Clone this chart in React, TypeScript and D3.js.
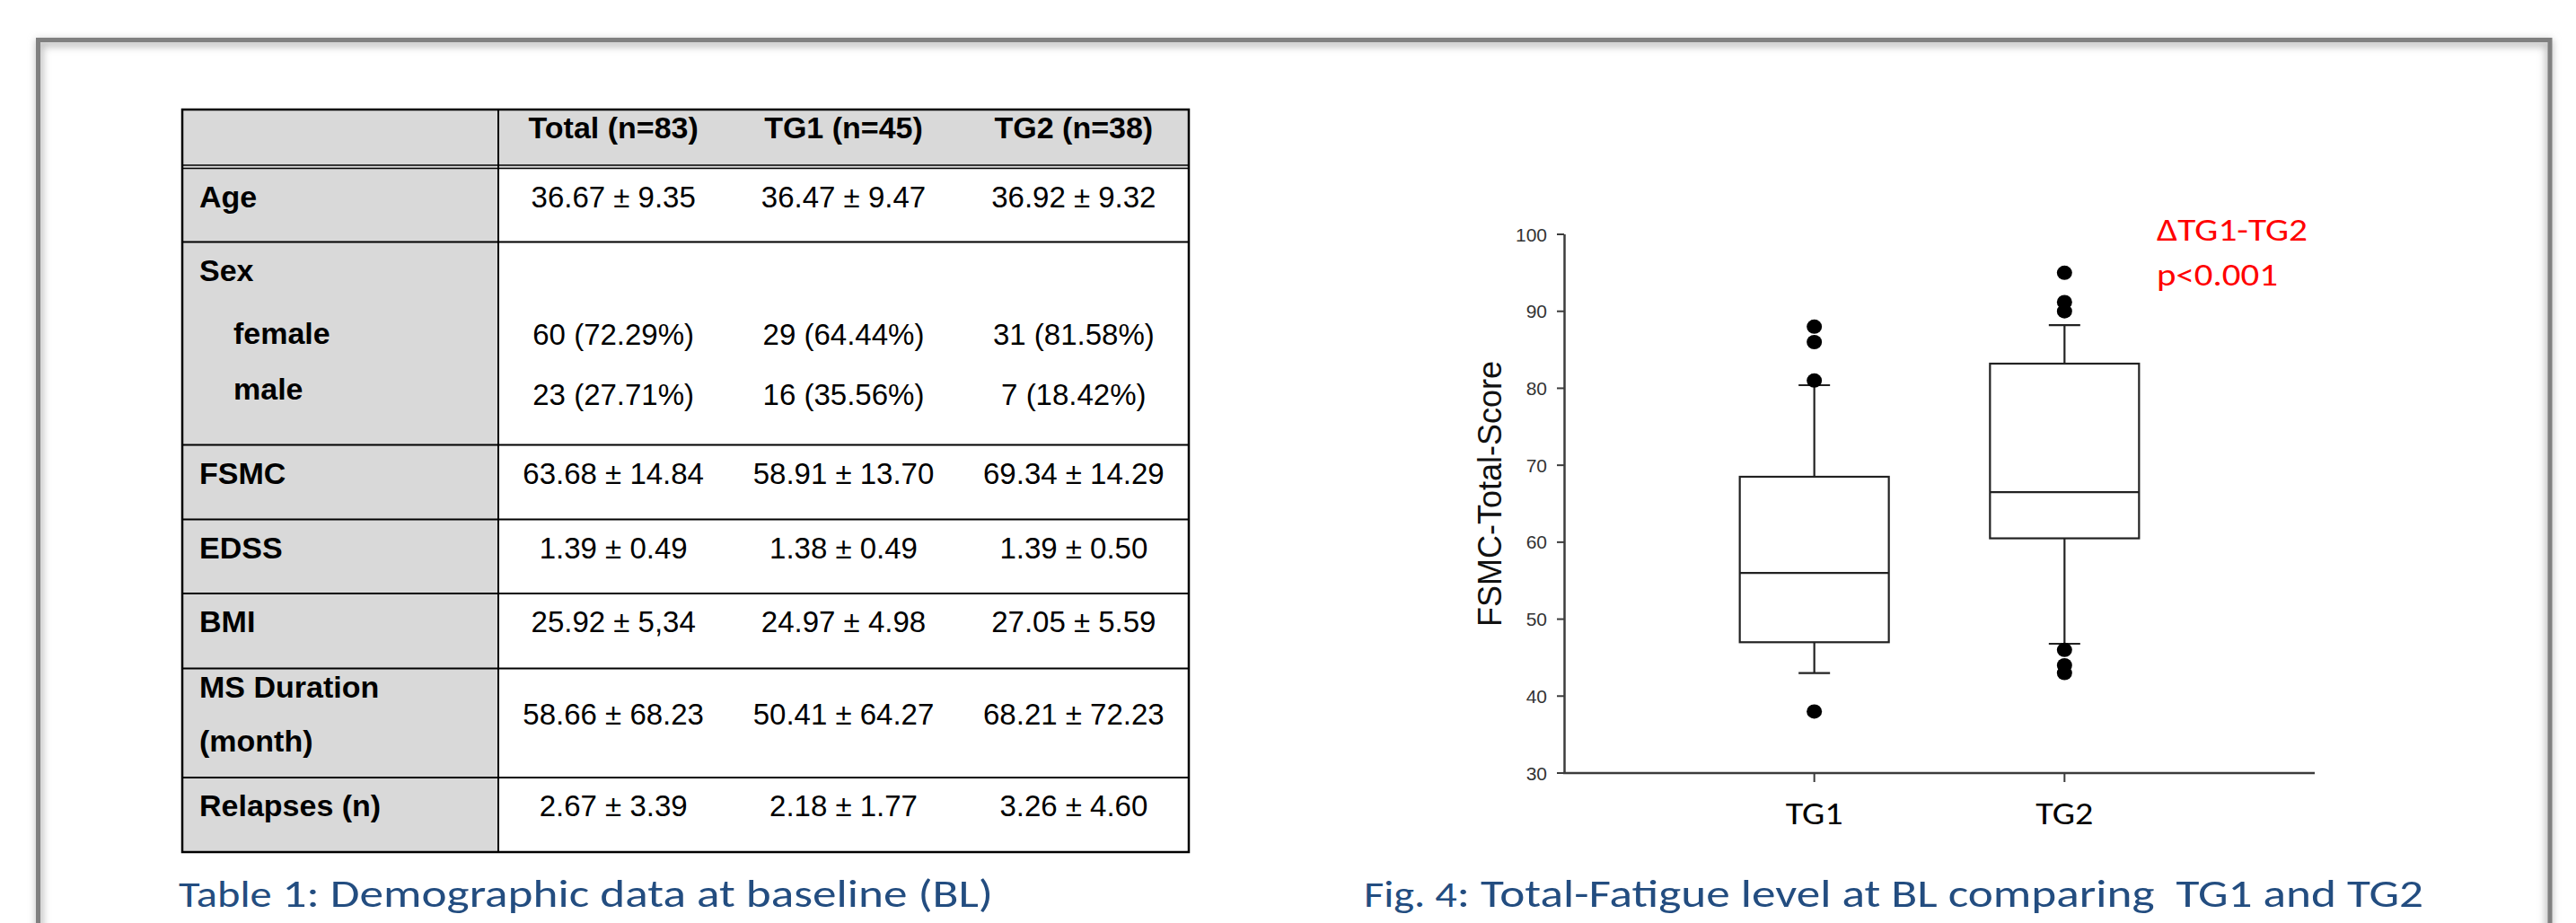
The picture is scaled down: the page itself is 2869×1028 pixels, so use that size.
import React from "react";
import * as d3 from "d3";

// ---------- Table data ----------
const tableHeaders: string[] = ["Total (n=83)", "TG1 (n=45)", "TG2 (n=38)"];
const rowLabels: string[] = ["Age", "Sex", "FSMC", "EDSS", "BMI", "MS Duration|(month)", "Relapses (n)"];
const ageValues: string[] = ["36.67 ± 9.35", "36.47 ± 9.47", "36.92 ± 9.32"];
const sexSubLabels: string[] = ["female", "male"];
const femaleValues: string[] = ["60 (72.29%)", "29 (64.44%)", "31 (81.58%)"];
const maleValues: string[] = ["23 (27.71%)", "16 (35.56%)", "7 (18.42%)"];
const fsmcValues: string[] = ["63.68 ± 14.84", "58.91 ± 13.70", "69.34 ± 14.29"];
const edssValues: string[] = ["1.39 ± 0.49", "1.38 ± 0.49", "1.39 ± 0.50"];
const bmiValues: string[] = ["25.92 ± 5,34", "24.97 ± 4.98", "27.05 ± 5.59"];
const durationValues: string[] = ["58.66 ± 68.23", "50.41 ± 64.27", "68.21 ± 72.23"];
const relapseValues: string[] = ["2.67 ± 3.39", "2.18 ± 1.77", "3.26 ± 4.60"];

// ---------- Box plot data ----------
const groups: string[] = ["TG1", "TG2"];
const q1: number[] = [47, 60.5];
const median: number[] = [56, 66.5];
const q3: number[] = [68.5, 83.2];
const whiskerLow: number[] = [43, 46.8];
const whiskerHigh: number[] = [80.4, 88.2];
const outliersTG1: number[] = [88, 86, 81, 38];
const outliersTG2: number[] = [95, 91.2, 90, 46, 44, 43];
const yTicks: number[] = [30, 40, 50, 60, 70, 80, 90, 100];
const yAxisTitle = "FSMC-Total-Score";
const annotation: string[] = ["ΔTG1-TG2", "p<0.001"];

const captionTable = ["Table", " 1: Demographic data at baseline (BL)"];
const captionFig = ["Fig. 4", ": Total-Fatigue level at BL comparing  TG1 and TG2"];

const ARIAL = "'Liberation Sans', Arial, Helvetica, sans-serif";
const CALIBRI = "Calibri, Carlito, Lato, 'Open Sans', sans-serif";
const BLUE = "#234d80";

export default function App() {
  // ----- table layout -----
  const tLeft = 203, tRight = 1324, labelRight = 555;
  const tTop = 122, headBottom = 187.5;
  const rowBottoms = [269.5, 495.5, 578.5, 661, 744.5, 866, 949];
  const colX = d3.scaleBand<number>().domain([0, 1, 2]).range([labelRight, tRight]);
  const cx = (i: number) => (colX(i) as number) + colX.bandwidth() / 2;
  const rowTop = (i: number) => (i === 0 ? headBottom : rowBottoms[i - 1]);

  const simpleRows: { idx: number; values: string[] }[] = [
    { idx: 0, values: ageValues },
    { idx: 2, values: fsmcValues },
    { idx: 3, values: edssValues },
    { idx: 4, values: bmiValues },
    { idx: 6, values: relapseValues },
  ];

  // ----- chart scales -----
  const y = d3.scaleLinear().domain([30, 100]).range([861, 261]);
  const x = d3.scalePoint<string>().domain(groups).range([1742, 2578]).padding(1);
  const boxHalf = 83;
  const capHalf = 17.5;
  const outliers = [outliersTG1, outliersTG2];
  const stroke = "#222";

  return (
    <svg
      width={2869}
      height={1028}
      style={{ position: "absolute", left: 0, top: 0, background: "#fff" }}
    >
      <defs>
        <filter id="sh" x="-5%" y="-5%" width="110%" height="110%">
          <feGaussianBlur stdDeviation="4" />
        </filter>
      </defs>
      <rect x={0} y={0} width={2869} height={1028} fill="#fff" />

      {/* frame with soft shadow */}
      <rect x={44} y={48} width={2795} height={1100} fill="none" stroke="#bdbdbd" strokeWidth={8} filter="url(#sh)" />
      <rect x={42.5} y={44.5} width={2797.5} height={1100} fill="none" stroke="#808080" strokeWidth={5} />

      {/* ---------- TABLE ---------- */}
      <rect x={tLeft} y={tTop} width={tRight - tLeft} height={headBottom - tTop} fill="#d9d9d9" />
      <rect x={tLeft} y={headBottom} width={labelRight - tLeft} height={949 - headBottom} fill="#d9d9d9" />
      {/* header double line */}
      <line x1={tLeft} x2={tRight} y1={184} y2={184} stroke="#000" strokeWidth={1.6} />
      <line x1={tLeft} x2={tRight} y1={187.5} y2={187.5} stroke="#000" strokeWidth={1.6} />
      {rowBottoms.slice(0, -1).map((b, i) => (
        <line key={i} x1={tLeft} x2={tRight} y1={b} y2={b} stroke="#000" strokeWidth={2} />
      ))}
      <line x1={labelRight} x2={labelRight} y1={tTop} y2={949} stroke="#000" strokeWidth={2} />
      <rect x={tLeft} y={tTop} width={tRight - tLeft} height={949 - tTop} fill="none" stroke="#000" strokeWidth={2.5} />

      {/* header text */}
      {tableHeaders.map((h, i) => (
        <text key={h} x={cx(i)} y={154} textAnchor="middle" fontFamily={ARIAL} fontWeight="bold" fontSize={34} fill="#000">
          {h}
        </text>
      ))}

      {/* row labels */}
      {rowLabels.map((lab, i) => {
        const top = rowTop(i);
        const lines = lab.split("|");
        if (lines.length === 2) {
          return (
            <g key={lab}>
              <text x={222} y={top + 32} fontFamily={ARIAL} fontWeight="bold" fontSize={34}>{lines[0]}</text>
              <text x={222} y={top + 92} fontFamily={ARIAL} fontWeight="bold" fontSize={34}>{lines[1]}</text>
            </g>
          );
        }
        return (
          <text key={lab} x={222} y={top + 43} fontFamily={ARIAL} fontWeight="bold" fontSize={34}>
            {lab}
          </text>
        );
      })}
      {sexSubLabels.map((s, j) => (
        <text key={s} x={260} y={[383, 445][j]} fontFamily={ARIAL} fontWeight="bold" fontSize={34}>
          {s}
        </text>
      ))}

      {/* values */}
      {simpleRows.map((r) =>
        r.values.map((v, i) => (
          <text key={r.idx + "-" + i} x={cx(i)} y={rowTop(r.idx) + 43} textAnchor="middle" fontFamily={ARIAL} fontSize={33} fill="#000">
            {v}
          </text>
        ))
      )}
      {femaleValues.map((v, i) => (
        <text key={"f" + i} x={cx(i)} y={384} textAnchor="middle" fontFamily={ARIAL} fontSize={33}>{v}</text>
      ))}
      {maleValues.map((v, i) => (
        <text key={"m" + i} x={cx(i)} y={451} textAnchor="middle" fontFamily={ARIAL} fontSize={33}>{v}</text>
      ))}
      {durationValues.map((v, i) => (
        <text key={"d" + i} x={cx(i)} y={807} textAnchor="middle" fontFamily={ARIAL} fontSize={33}>{v}</text>
      ))}

      {/* table caption */}
      <text x={199} y={1010} fontFamily={CALIBRI} fontSize={44} fill={BLUE} textLength={907} lengthAdjust="spacingAndGlyphs" style={{ whiteSpace: "pre" }}>
        <tspan fontSize={40}>{captionTable[0]}</tspan>
        <tspan>{captionTable[1]}</tspan>
      </text>

      {/* ---------- BOX PLOT ---------- */}
      {/* axes */}
      <line x1={1742.5} x2={1742.5} y1={y(100)} y2={y(30)} stroke="#3c3c3c" strokeWidth={2.5} />
      <line x1={1741} x2={2578} y1={y(30)} y2={y(30)} stroke="#3c3c3c" strokeWidth={2.5} />
      {yTicks.map((t) => (
        <g key={t}>
          <line x1={1734} x2={1742} y1={y(t)} y2={y(t)} stroke="#3c3c3c" strokeWidth={2} />
          <text x={1723} y={y(t)} dy="0.36em" textAnchor="end" fontFamily={ARIAL} fontSize={21} fill="#333">
            {t}
          </text>
        </g>
      ))}
      {groups.map((g) => (
        <g key={g}>
          <line x1={x(g)} x2={x(g)} y1={y(30)} y2={y(30) + 10} stroke="#3c3c3c" strokeWidth={2} />
          <text x={x(g)} y={918} textAnchor="middle" fontFamily={CALIBRI} fontSize={35} fill="#000" textLength={64} lengthAdjust="spacingAndGlyphs">
            {g}
          </text>
        </g>
      ))}
      <text
        transform={`translate(1672,${(y(30) + y(100)) / 2 - 11}) rotate(-90)`}
        textAnchor="middle"
        fontFamily={ARIAL}
        fontSize={36}
        fill="#111"
      >
        {yAxisTitle}
      </text>

      {/* boxes */}
      {groups.map((g, i) => {
        const c = x(g) as number;
        return (
          <g key={g} stroke={stroke} strokeWidth={2.2} fill="none">
            <line x1={c} x2={c} y1={y(whiskerHigh[i])} y2={y(q3[i])} />
            <line x1={c} x2={c} y1={y(q1[i])} y2={y(whiskerLow[i])} />
            <line x1={c - capHalf} x2={c + capHalf} y1={y(whiskerHigh[i])} y2={y(whiskerHigh[i])} />
            <line x1={c - capHalf} x2={c + capHalf} y1={y(whiskerLow[i])} y2={y(whiskerLow[i])} />
            <rect x={c - boxHalf} y={y(q3[i])} width={boxHalf * 2} height={y(q1[i]) - y(q3[i])} fill="#fff" />
            <line x1={c - boxHalf} x2={c + boxHalf} y1={y(median[i])} y2={y(median[i])} />
            {outliers[i].map((o, k) => (
              <ellipse key={k} cx={c} cy={y(o)} rx={8.5} ry={8} fill="#000" stroke="none" />
            ))}
          </g>
        );
      })}

      {/* annotation */}
      {annotation.map((a, i) => (
        <text key={a} x={2402} y={[268, 318][i]} fontFamily={CALIBRI} fontSize={35} fill="#ff0000" textLength={[168, 135][i]} lengthAdjust="spacingAndGlyphs">
          {a}
        </text>
      ))}

      {/* figure caption */}
      <text x={1519} y={1010} fontFamily={CALIBRI} fontSize={44} fill={BLUE} textLength={1180} lengthAdjust="spacingAndGlyphs" style={{ whiteSpace: "pre" }}>
        <tspan fontSize={40}>{captionFig[0]}</tspan>
        <tspan>{captionFig[1]}</tspan>
      </text>
    </svg>
  );
}
